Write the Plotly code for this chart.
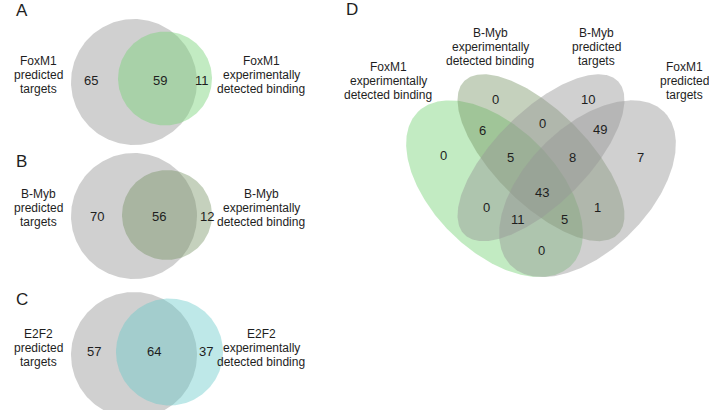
import numpy as np
import plotly.graph_objects as go

# ---------------- data ----------------
panel_letters = ["A", "B", "C", "D"]

# two-set panels: [left only, overlap, right only]
foxm1_counts = [65, 59, 11]
bmyb_counts = [70, 56, 12]
e2f2_counts = [57, 64, 37]

left_labels = ["FoxM1<br>predicted<br>targets", "B-Myb<br>predicted<br>targets", "E2F2<br>predicted<br>targets"]
right_labels = ["FoxM1<br>experimentally<br>detected binding", "B-Myb<br>experimentally<br>detected binding",
                "E2F2<br>experimentally<br>detected binding"]

# four-set panel D set names
set_names = ["FoxM1<br>experimentally<br>detected binding", "B-Myb<br>experimentally<br>detected binding",
             "B-Myb<br>predicted<br>targets", "FoxM1<br>predicted<br>targets"]
# region keys: which sets (1=FoxM1 exp, 2=B-Myb exp, 3=B-Myb pred, 4=FoxM1 pred)
region_keys = ["1", "2", "3", "4", "12", "23", "34", "123", "234", "1234", "13", "24", "134", "124", "14"]
region_counts = [0, 0, 10, 7, 6, 0, 49, 5, 8, 43, 0, 1, 11, 5, 0]

# ---------------- layout / styling ----------------
W, H = 709, 410
GRAY = "rgba(150,150,150,0.45)"
GREEN = "rgba(120,210,120,0.45)"
OLIVE = "rgba(110,140,90,0.40)"
TEAL = "rgba(100,200,200,0.42)"
TXT = "#1e1e1e"
FONT = "Liberation Sans, Arial, Helvetica, sans-serif"
LINE_H = 14

fig = go.Figure()


def add_poly(xs, ys, color):
    fig.add_trace(go.Scatter(x=xs, y=ys, mode="lines", fill="toself", fillcolor=color,
                             line=dict(width=0, color="rgba(0,0,0,0)"), hoverinfo="skip",
                             showlegend=False))


def circle(cx, cy, r, color):
    t = np.linspace(0, 2 * np.pi, 241)
    add_poly(cx + r * np.cos(t), cy + r * np.sin(t), color)


def text(x, y, s, size=12):
    fig.add_annotation(x=x, y=y, text=s, showarrow=False, xanchor="center", yanchor="middle",
                       font=dict(family=FONT, size=size, color=TXT))


def multiline(x, yc, s, size=12):
    lines = s.split("<br>")
    n = len(lines)
    for i, ln in enumerate(lines):
        text(x, yc + (i - (n - 1) / 2) * LINE_H, ln, size)


# two-set panels geometry (pixel space)
two_panels = [
    dict(big=(134, 82, 63), small=(165, 78.5, 47), color=GREEN, counts=foxm1_counts,
         num_x=[91, 160, 202], num_y=80.5, lab_y=74.5, letter_y=10),
    dict(big=(134, 216, 63), small=(167, 215, 45), color=OLIVE, counts=bmyb_counts,
         num_x=[97, 159, 207], num_y=216, lab_y=208, letter_y=161),
    dict(big=(134, 355, 63), small=(169.5, 352, 53.5), color=TEAL, counts=e2f2_counts,
         num_x=[94, 154, 206], num_y=351, lab_y=348, letter_y=299),
]

for i, p in enumerate(two_panels):
    circle(*p["big"], GRAY)
    circle(*p["small"], p["color"])
    for x, c in zip(p["num_x"], p["counts"]):
        text(x, p["num_y"], str(c), 13)
    multiline(38.5, p["lab_y"], left_labels[i], 12)
    multiline(261, p["lab_y"], right_labels[i], 12)
    text(21.5, p["letter_y"], panel_letters[i], 17)

# four-set panel: ellipse parameters in unit space -> pixel
X0, Y0, S = 386.0, 334.4, 310.0
ellipses = [
    dict(c=(0.35, 0.47), a=0.35, b=0.20, rot=135, color=GREEN),
    dict(c=(0.50, 0.57), a=0.35, b=0.15, rot=135, color=OLIVE),
    dict(c=(0.50, 0.57), a=0.35, b=0.15, rot=45, color=GRAY),
    dict(c=(0.65, 0.47), a=0.35, b=0.20, rot=45, color=GRAY),
]
t = np.linspace(0, 2 * np.pi, 361)
for e in ellipses:
    th = np.deg2rad(e["rot"])
    ux = e["c"][0] + e["a"] * np.cos(t) * np.cos(th) - e["b"] * np.sin(t) * np.sin(th)
    uy = e["c"][1] + e["a"] * np.cos(t) * np.sin(th) + e["b"] * np.sin(t) * np.cos(th)
    add_poly(X0 + S * ux, Y0 - S * uy, e["color"])

region_pos = {
    "1": (443, 155), "2": (495, 99), "3": (588, 99), "4": (640, 157),
    "12": (482, 130), "23": (542, 123), "34": (600, 129),
    "123": (510, 157), "234": (572, 157), "1234": (542, 192),
    "13": (486, 207), "24": (597, 207), "134": (518, 219), "124": (564, 219), "14": (541, 250),
}
for k, c in zip(region_keys, region_counts):
    x, y = region_pos[k]
    text(x, y, str(c), 13)

set_label_pos = [(388, 81), (490, 47), (596, 47), (684, 81)]
for (x, y), s in zip(set_label_pos, set_names):
    multiline(x, y, s, 12)
text(352, 9.5, panel_letters[3], 17)

fig.update_layout(
    width=W, height=H, autosize=False,
    margin=dict(l=0, r=0, t=0, b=0),
    paper_bgcolor="white", plot_bgcolor="white",
    xaxis=dict(range=[0, W], visible=False, fixedrange=True),
    yaxis=dict(range=[H, 0], visible=False, fixedrange=True),
    showlegend=False,
)
fig.write_html("out.html", config={"displayModeBar": False},
               post_script="document.body.style.margin='0';document.body.style.overflow='hidden';")
